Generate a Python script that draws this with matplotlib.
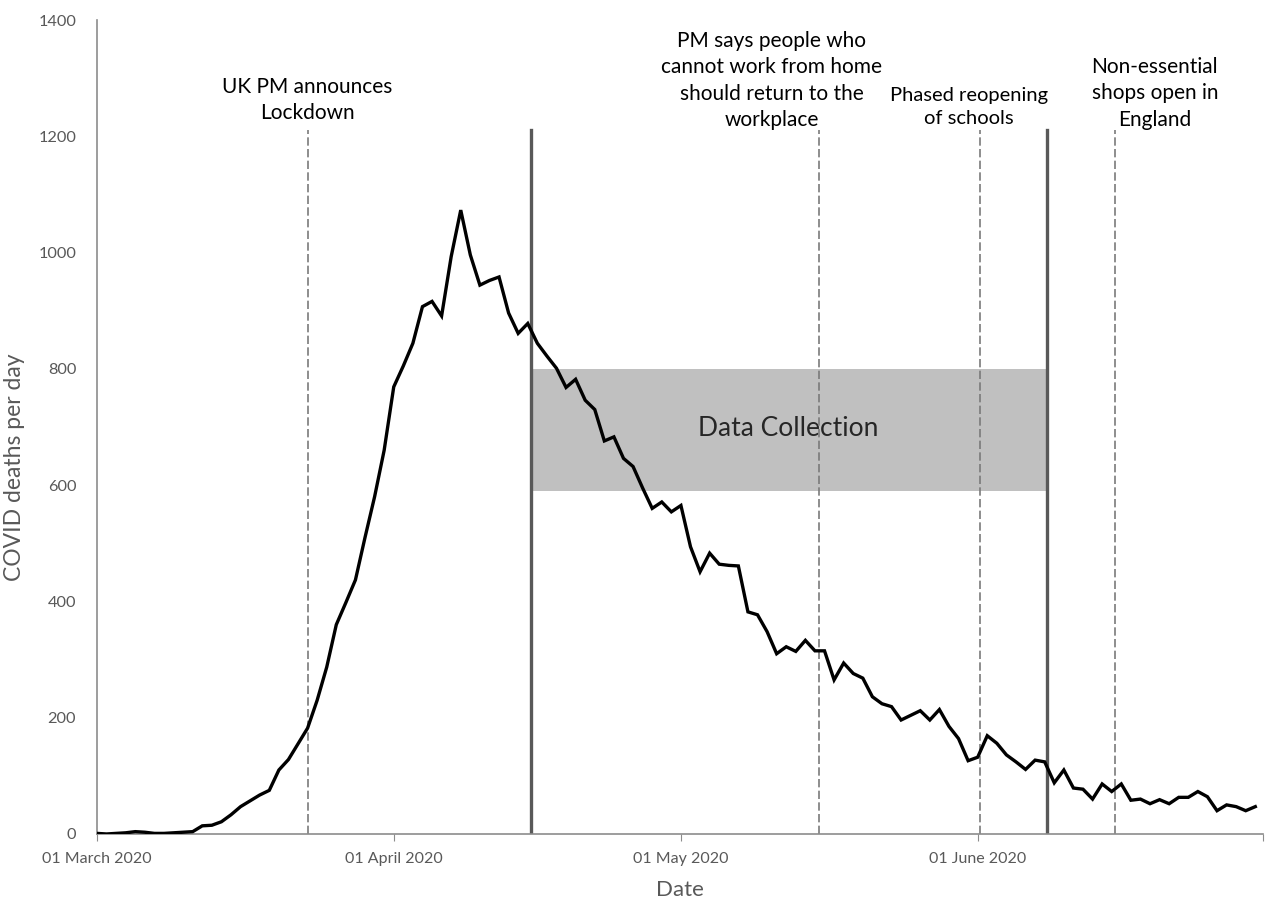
import matplotlib
matplotlib.use('Agg')
import matplotlib.pyplot as plt
import numpy as np

# daily COVID deaths, 01 March 2020 .. 30 June 2020 (day 0 = 01 March)
deaths = [1, 0, 1, 2, 4, 3, 1, 1, 2, 3,
          4, 14, 15, 21, 33, 47, 57, 67, 75, 110,
          128, 155, 182, 230, 287, 360, 398, 437, 510, 580,
          660, 769, 805, 844, 907, 916, 891, 993, 1073, 996,
          944, 952, 958, 896, 861, 878, 844, 822, 801, 768,
          782, 746, 730, 676, 683, 646, 632, 595, 560, 571,
          554, 565, 494, 451, 483, 464, 462, 461, 382, 377,
          348, 310, 322, 314, 333, 315, 315, 265, 294, 276,
          268, 236, 224, 219, 196, 204, 212, 196, 214, 185,
          164, 126, 132, 169, 156, 136, 124, 111, 127, 124,
          88, 110, 79, 77, 60, 86, 73, 86, 58, 60,
          52, 59, 52, 63, 63, 73, 64, 40, 50, 47,
          40, 47]
days = np.arange(len(deaths))

tick_days = [0, 31, 61, 92]
tick_labels = ['01 March 2020', '01 April 2020', '01 May 2020', '01 June 2020']

event_days = [22, 75.4, 92.2, 106.3]
event_texts = ['UK PM announces\nLockdown',
               'PM says people who\ncannot work from home\nshould return to the\nworkplace',
               'Phased reopening\nof schools',
               'Non-essential\nshops open in\nEngland']
event_text_x = [22, 70.5, 91.1, 110.5]
event_text_y = [1262, 1296, 1250, 1274]
event_text_size = [15, 15, 14.5, 15]
event_text_spacing = [1.4, 1.4, 1.45, 1.4]

collect_start = 45.3
collect_end = 99.2
collect_low = 590
collect_high = 800

plt.rcParams['font.family'] = ['Lato', 'DejaVu Sans']

fig = plt.figure(figsize=(12.66, 9.01), dpi=100)
ax = fig.add_axes([0.0766, 0.0744, 0.9210, 0.9034])

ax.fill_between([collect_start, collect_end], collect_low, collect_high,
                color='#c0c0c0', lw=0, zorder=1)
ax.text((collect_start + collect_end) / 2, 698, 'Data Collection',
        ha='center', va='center', fontsize=19, color='#262626', zorder=2)

for d in event_days:
    ax.plot([d, d], [0, 1210], color='#7a7a7a', lw=1.2,
            linestyle=(0, (5, 2)), zorder=2)
for d in [collect_start, collect_end]:
    ax.plot([d, d], [0, 1210], color='#595959', lw=2.4, zorder=2)

for tx, ty, t, fs, ls in zip(event_text_x, event_text_y, event_texts,
                             event_text_size, event_text_spacing):
    ax.text(tx, ty, t, ha='center', va='center', fontsize=fs,
            linespacing=ls, color='black')

ax.plot(days, deaths, color='black', lw=2.4, zorder=3,
        solid_joinstyle='miter')

ax.set_xlim(0, 121.8)
ax.set_ylim(0, 1400)
ax.set_xticks(tick_days + [121.8])
ax.set_xticklabels(tick_labels + [''])
ax.set_yticks(np.arange(0, 1401, 200))

for s in ['top', 'right']:
    ax.spines[s].set_visible(False)
for s in ['left', 'bottom']:
    ax.spines[s].set_color('#8c8c8c')
    ax.spines[s].set_linewidth(1.2)

ax.tick_params(axis='y', length=0, labelsize=11.8, labelcolor='#595959', pad=15)
ax.tick_params(axis='x', length=5, color='#8c8c8c', labelsize=11.5,
               labelcolor='#595959', pad=8)

ax.set_xlabel('Date', fontsize=16, color='#595959', labelpad=10)
ax.set_ylabel('COVID deaths per day', fontsize=16.5, color='#595959', labelpad=12)
ax.yaxis.set_label_coords(-0.062, 0.45)

fig.savefig('out.png', dpi=100)
